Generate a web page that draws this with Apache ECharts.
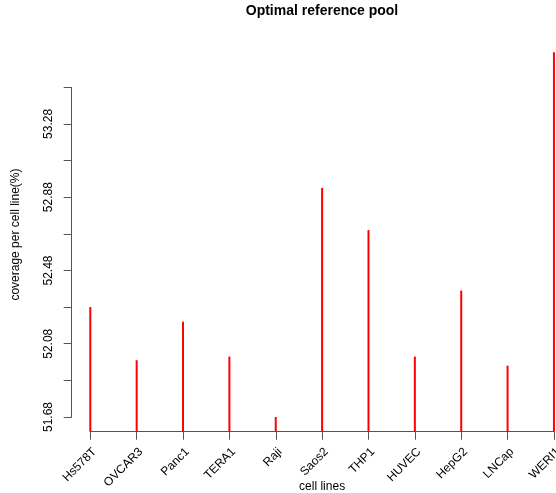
<!DOCTYPE html>
<html>
<head>
<meta charset="utf-8">
<script src="https://cdn.jsdelivr.net/npm/echarts@6/dist/echarts.min.js"></script>
<style>
  html, body { margin: 0; padding: 0; background: #fff; }
  #chart { width: 556px; height: 493px; }
</style>
</head>
<body>
<div id="chart"></div>
<script>
// cell lines and coverage values
var cellLines = ['Hs578T', 'OVCAR3', 'Panc1', 'TERA1', 'Raji', 'Saos2', 'THP1', 'HUVEC', 'HepG2', 'LNCap', 'WERI1'];
var coverage = [52.28, 51.99, 52.20, 52.01, 51.68, 52.93, 52.70, 52.01, 52.37, 51.96, 53.67];
var yTickLabels = ['51.68', '52.08', '52.48', '52.88', '53.28'];

var font = 'Liberation Sans, Arial, Helvetica, sans-serif';
var axisColor = '#555';

var myChart = echarts.init(document.getElementById('chart'));

myChart.setOption({
  animation: false,
  title: {
    text: 'Optimal reference pool',
    left: 322,
    top: 4,
    padding: 0,
    textAlign: 'center',
    textStyle: { fontFamily: font, fontSize: 14, fontWeight: 'bold', color: '#000' }
  },
  grid: [
    // plot region (like R's usr region), runs past the right edge
    { left: 71.75, top: 37.4, width: 500.75, height: 394.3, outerBoundsMode: 'none' },
    // axis region: first to last tick on each axis
    { left: 90.3, top: 87.3, width: 463.7, height: 329.7, outerBoundsMode: 'none' }
  ],
  xAxis: [
    {
      gridIndex: 0, type: 'value', min: 0.6, max: 11.4,
      name: 'cell lines', nameLocation: 'middle', nameGap: 49,
      nameTextStyle: { fontFamily: font, fontSize: 12, color: '#000' },
      axisLine: { show: false }, axisTick: { show: false },
      axisLabel: { show: false }, splitLine: { show: false }
    },
    {
      gridIndex: 1, type: 'value', min: 1, max: 11, interval: 1,
      position: 'bottom', offset: 14.7,
      axisLine: { show: true, lineStyle: { color: axisColor, width: 1 } },
      axisTick: { show: true, length: 8, lineStyle: { color: axisColor } },
      axisLabel: {
        rotate: 45, margin: 14, align: 'right', verticalAlign: 'top',
        fontFamily: font, fontSize: 12, color: '#000',
        showMinLabel: true, showMaxLabel: true, hideOverlap: false,
        formatter: function (v) { return cellLines[Math.round(v) - 1] || ''; }
      },
      splitLine: { show: false }
    }
  ],
  yAxis: [
    {
      gridIndex: 0, type: 'value', min: 51.6, max: 53.751,
      name: 'coverage per cell line(%)', nameLocation: 'middle', nameGap: 50,
      nameTextStyle: { fontFamily: font, fontSize: 12, color: '#000' },
      axisLine: { show: false }, axisTick: { show: false },
      axisLabel: { show: false }, splitLine: { show: false }
    },
    {
      gridIndex: 1, type: 'value', min: 51.68, max: 53.48, interval: 0.2,
      position: 'left', offset: 18.6,
      axisLine: { show: true, lineStyle: { color: axisColor, width: 1 } },
      axisTick: { show: true, length: 8, lineStyle: { color: axisColor } },
      axisLabel: {
        rotate: 90, margin: 17, fontFamily: font, fontSize: 12, color: '#000',
        showMinLabel: true, showMaxLabel: true,
        formatter: function (v) {
          var s = v.toFixed(2);
          return yTickLabels.indexOf(s) >= 0 ? s : '';
        }
      },
      splitLine: { show: false }
    }
  ],
  series: [
    {
      type: 'bar',
      xAxisIndex: 0,
      yAxisIndex: 0,
      barWidth: 2,
      clip: true,
      itemStyle: { color: '#ff0000' },
      data: coverage.map(function (v, i) { return [i + 1, v]; })
    }
  ]
});
</script>
</body>
</html>
